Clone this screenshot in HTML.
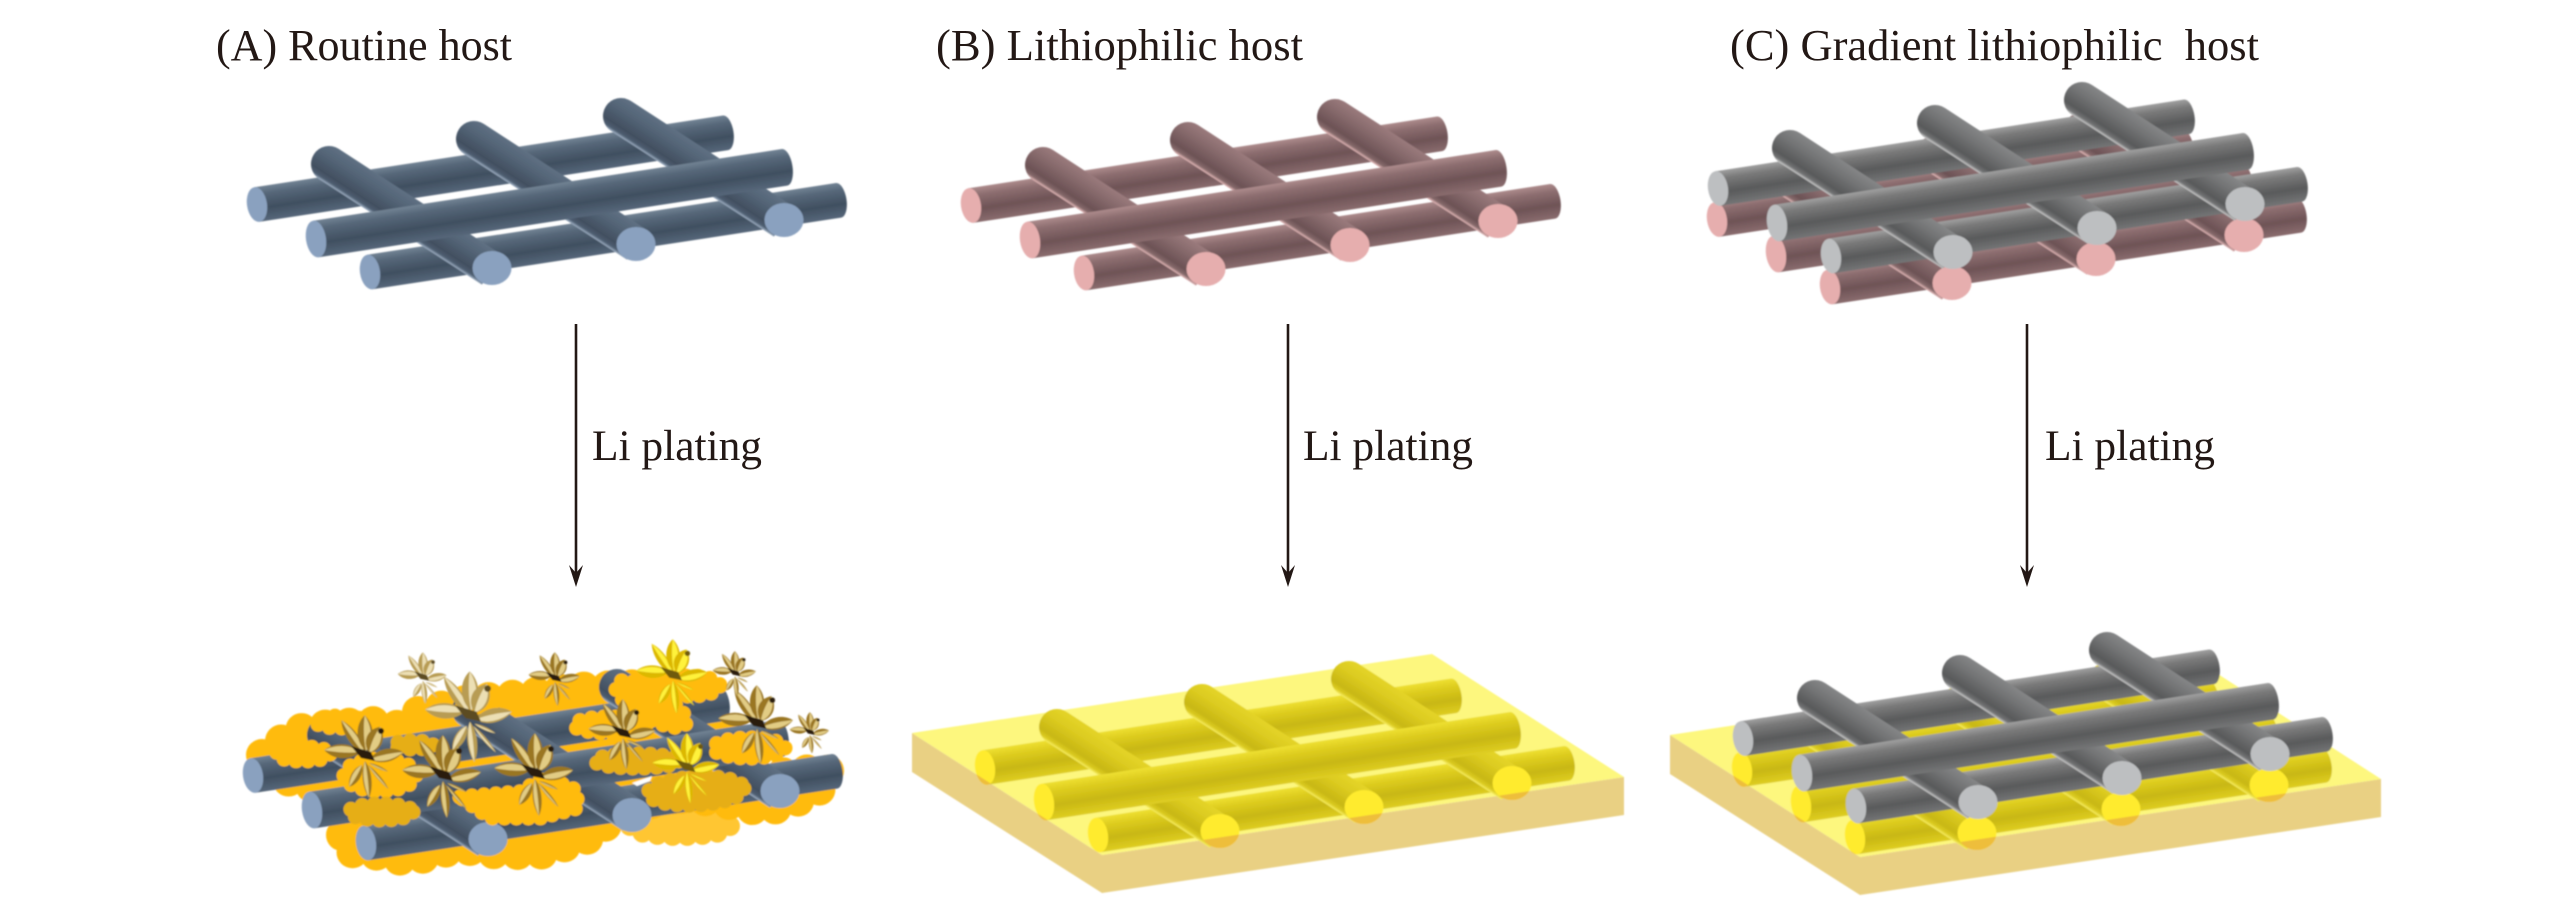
<!DOCTYPE html>
<html>
<head>
<meta charset="utf-8">
<style>
html,body{margin:0;padding:0;background:#fff;}
svg{display:block;}
.h{fill:var(--h);}
.d{fill:var(--d);}
.c{fill:var(--c);}
.la{fill:var(--a);}
.lb{fill:var(--b);}
.lk{fill:var(--k);}
text{font-family:"Liberation Serif",serif;fill:#231815;}
.t{font-size:44px;}
.p{font-size:43.5px;}
.s{stroke-dasharray:0 24;stroke-linecap:round;stroke-width:32;stroke-linejoin:round;}
.m{stroke-dasharray:0 12;stroke-linecap:round;stroke-width:15;stroke-linejoin:round;}
.n{stroke-dasharray:0 15;stroke-linecap:round;stroke-width:20;stroke-linejoin:round;}
</style>
</head>
<body>
<svg width="2567" height="903" viewBox="0 0 2567 903" xmlns="http://www.w3.org/2000/svg">
<defs>
  <filter id="soft" x="-2%" y="-2%" width="104%" height="104%"><feGaussianBlur stdDeviation="0.8"/></filter>
  <linearGradient id="hB" x1="0" y1="0" x2="0" y2="1"><stop offset="0" stop-color="#728394"/><stop offset=".22" stop-color="#566779"/><stop offset=".62" stop-color="#404f60"/><stop offset="1" stop-color="#56677a"/></linearGradient>
  <linearGradient id="dB" x1="0" y1="0" x2="0" y2="1"><stop offset="0" stop-color="#5f7083"/><stop offset=".35" stop-color="#536476"/><stop offset=".78" stop-color="#424f60"/><stop offset=".92" stop-color="#4f5f72"/><stop offset="1" stop-color="#a3b4c8"/></linearGradient>
  <linearGradient id="hP" x1="0" y1="0" x2="0" y2="1"><stop offset="0" stop-color="#ad8b8c"/><stop offset=".22" stop-color="#8d6e70"/><stop offset=".62" stop-color="#6e5356"/><stop offset="1" stop-color="#8a6c6e"/></linearGradient>
  <linearGradient id="dP" x1="0" y1="0" x2="0" y2="1"><stop offset="0" stop-color="#9a7a7c"/><stop offset=".35" stop-color="#876a6c"/><stop offset=".78" stop-color="#6c5255"/><stop offset=".92" stop-color="#866a6b"/><stop offset="1" stop-color="#e8bcbc"/></linearGradient>
  <linearGradient id="hG" x1="0" y1="0" x2="0" y2="1"><stop offset="0" stop-color="#a0a0a0"/><stop offset=".22" stop-color="#7a7a7a"/><stop offset=".62" stop-color="#595a5b"/><stop offset="1" stop-color="#747576"/></linearGradient>
  <linearGradient id="dG" x1="0" y1="0" x2="0" y2="1"><stop offset="0" stop-color="#858687"/><stop offset=".35" stop-color="#737475"/><stop offset=".78" stop-color="#58595a"/><stop offset=".92" stop-color="#737475"/><stop offset="1" stop-color="#cfcfcf"/></linearGradient>
  <linearGradient id="hY" x1="0" y1="0" x2="0" y2="1"><stop offset="0" stop-color="#eee032"/><stop offset=".22" stop-color="#dfce20"/><stop offset=".62" stop-color="#c8b712"/><stop offset="1" stop-color="#dfce22"/></linearGradient>
  <linearGradient id="dY" x1="0" y1="0" x2="0" y2="1"><stop offset="0" stop-color="#e4d428"/><stop offset=".35" stop-color="#dccb20"/><stop offset=".78" stop-color="#c8b714"/><stop offset=".92" stop-color="#dccc22"/><stop offset="1" stop-color="#f8ef63"/></linearGradient>

  <g id="caps">
    <ellipse transform="translate(257,204.5) rotate(-8.7)" rx="10" ry="17.5"/>
    <ellipse transform="translate(316,239) rotate(-8.7)" rx="10" ry="18.5"/>
    <ellipse transform="translate(370,272) rotate(-8.7)" rx="10" ry="17.5"/>
    <ellipse cx="492" cy="268" rx="19.5" ry="17"/>
    <ellipse cx="636" cy="244" rx="19.5" ry="17"/>
    <ellipse cx="784" cy="220" rx="19.5" ry="17"/>
  </g>

  <g id="mesh">
    <path class="h" transform="translate(257,204.5) rotate(-8.7)" d="M0,-17.5H474A8,17.5 0 0 1 474,17.5H0Z"/>
    <path class="h" transform="translate(370,272) rotate(-8.7)" d="M0,-17.5H474A8,17.5 0 0 1 474,17.5H0Z"/>
    <path class="d" transform="translate(329,164) rotate(33)" d="M0,-18H194V18H0A18,18 0 0 1 0,-18Z"/>
    <path class="d" transform="translate(474,139) rotate(33)" d="M0,-18H194V18H0A18,18 0 0 1 0,-18Z"/>
    <path class="d" transform="translate(621,116) rotate(33)" d="M0,-18H194V18H0A18,18 0 0 1 0,-18Z"/>
    <path class="h" transform="translate(316,239) rotate(-8.7)" d="M0,-18.5H474A8,18.5 0 0 1 474,18.5H0Z"/>
    <use href="#caps" class="c"/>
  </g>

  <g id="lf">
    <path class="la" d="M0,0C-9,-12 -8,-32 -1,-42C6,-32 8,-12 0,0Z"/>
    <path class="lb" d="M0,0C-2,-14 -2,-30 -1,-42C4,-30 6,-14 0,0Z"/>
  </g>
  <g id="tr">
    <use href="#lf" transform="translate(0,6) rotate(175) scale(.75,.88)"/>
    <use href="#lf" transform="translate(-3,10) rotate(212) scale(.8,.6)"/>
    <use href="#lf" transform="translate(3,10) rotate(140) scale(.3,.75)"/>
    <use href="#lf" transform="translate(4,8) rotate(115) scale(.25,.5)"/>
    <use href="#lf" transform="translate(-5,-3) rotate(-85) scale(1.2,.85)"/>
    <use href="#lf" transform="translate(5,4) rotate(80) scale(1.1,.8)"/>
    <use href="#lf" transform="rotate(-33) scale(.9,1)"/>
    <use href="#lf" transform="translate(1,-4) rotate(0) scale(1.3,.85)"/>
    <use href="#lf" transform="translate(4,-2) rotate(26) scale(1.4,.68)"/>
    <path class="lk" d="M-14,-9L6,-3L10,6L-4,3Z"/>
    <circle class="lk" cx="16" cy="-24" r="3"/>
  </g>

  <clipPath id="sideB"><polygon points="912,733 1102,855 1624,777 1624,815 1102,893 912,772"/></clipPath>
  <clipPath id="sideC"><polygon points="1670,735 1860,857 2381,779 2381,817 1860,895 1670,774"/></clipPath>
</defs>

<rect width="2567" height="903" fill="#fff"/>

<!-- Titles -->
<text class="t" x="216" y="60" textLength="296" lengthAdjust="spacingAndGlyphs">(A) Routine host</text>
<text class="t" x="936" y="60" textLength="367" lengthAdjust="spacingAndGlyphs">(B) Lithiophilic host</text>
<text class="t" x="1730" y="60" textLength="529" lengthAdjust="spacingAndGlyphs">(C) Gradient lithiophilic&#160; host</text>

<g filter="url(#soft)">
<!-- Top meshes -->
<g style="--h:url(#hB);--d:url(#dB);--c:#8aa1bf"><use href="#mesh"/></g>
<g style="--h:url(#hP);--d:url(#dP);--c:#e6aeae"><use href="#mesh" transform="translate(714,1)"/></g>
<g style="--h:url(#hP);--d:url(#dP);--c:#e6aeae"><use href="#mesh" transform="translate(1460,15)"/></g>
<g style="--h:url(#hG);--d:url(#dG);--c:#bdbfc1"><use href="#mesh" transform="translate(1461,-16)"/></g>

<!-- Bottom A: clouds behind mesh -->
<g fill="#ffc633" stroke="#ffc633" class="n"><ellipse cx="680" cy="826" rx="50" ry="10"/></g>
<g fill="#ffbb0b" stroke="#ffbb0b" class="s">
  <path d="M342,835 L362,825 L600,800 L606,828 L585,840 L540,854 L500,854 L470,850 L440,852 L410,862 L380,855 L350,852 Z"/>
  <path d="M640,790 L828,768 L828,785 L800,800 L765,812 L735,805 L690,798 L650,798 Z"/>
  <path d="M262,755 L295,730 L330,725 L375,722 L420,730 L420,790 L350,790 L305,786 L275,776 Z"/>
  <path d="M418,712 L470,700 L520,695 L575,688 L640,685 L705,690 L712,720 L600,740 L420,750 Z"/>
  <path d="M400,740 L720,720 L760,780 L620,810 L400,810 Z"/>
</g>
<g style="--h:url(#hB);--d:url(#dB);--c:#8aa1bf"><use href="#mesh" transform="translate(-4,571)"/></g>
<!-- clouds over mesh -->
<g fill="#ffbb0b" stroke="#ffbb0b" class="m">
  <path d="M460,797 L520,792 L545,777 L576,790 L578,808 L540,818 L490,818 Z"/>
  <ellipse cx="303" cy="754" rx="27" ry="7"/>
  <ellipse cx="380" cy="775" rx="36" ry="16"/>
  <ellipse cx="340" cy="722" rx="24" ry="6"/>
  <ellipse cx="478" cy="702" rx="16" ry="8"/>
  <ellipse cx="610" cy="725" rx="36" ry="8"/>
  <ellipse cx="651" cy="704" rx="40" ry="14" transform="rotate(30 651 704)"/>
  <ellipse cx="690" cy="686" rx="30" ry="10"/>
  <ellipse cx="749" cy="748" rx="36" ry="10"/>
</g>
<g fill="#e6ae16" stroke="#e6ae16" class="m">
  <ellipse cx="381" cy="812" rx="32" ry="8"/>
  <ellipse cx="413" cy="745" rx="20" ry="4"/>
  <ellipse cx="637" cy="761" rx="42" ry="7"/>
  <ellipse cx="696" cy="791" rx="48" ry="14" transform="rotate(-3 696 791)"/>
</g>
<polygon points="632,783 652,776 650,781 637,786" fill="#fff"/>
<!-- dendrites -->
<g style="--a:#9a7621;--b:#e2cc84;--k:#2b1f0a">
  <use href="#tr" transform="translate(365,755)"/>
  <use href="#tr" transform="translate(443,775)"/>
  <use href="#tr" transform="translate(535,773)"/>
  <use href="#tr" transform="translate(623,733) scale(.85)"/>
  <use href="#tr" transform="translate(757,723) scale(.95)"/>
  <use href="#tr" transform="translate(555,678) scale(.65)"/>
  <use href="#tr" transform="translate(735,673) scale(.55)"/>
  <use href="#tr" transform="translate(810,732) scale(.5)"/>
</g>
<g style="--a:#b89c52;--b:#ecdfb4;--k:#5c4b20">
  <use href="#tr" transform="translate(470,715) scale(1.1)"/>
  <use href="#tr" transform="translate(423,677) scale(.62)"/>
</g>
<g style="--a:#dcb800;--b:#fff23a;--k:#6e5a10">
  <use href="#tr" transform="translate(673,675) scale(.9)"/>
  <use href="#tr" transform="translate(687,767) scale(.85)"/>
</g>

<!-- Bottom B -->
<polygon points="912,733 1102,855 1624,777 1624,815 1102,893 912,772" fill="#e9d083"/>
<polygon points="912,733 1432,654 1624,777 1102,855" fill="#fdf77e"/>
<g style="--h:url(#hY);--d:url(#dY);--c:#ffeb2d"><use href="#mesh" transform="translate(728,563)"/></g>
<g clip-path="url(#sideB)" fill="#eebe3a"><use href="#caps" transform="translate(728,563)"/></g>

<!-- Bottom C -->
<polygon points="1670,735 1860,857 2381,779 2381,817 1860,895 1670,774" fill="#e9d083"/>
<polygon points="1670,735 2190,656 2381,779 1860,857" fill="#fdf77e"/>
<g style="--h:url(#hY);--d:url(#dY);--c:#ffeb2d"><use href="#mesh" transform="translate(1485,565)"/></g>
<g clip-path="url(#sideC)" fill="#eebe3a"><use href="#caps" transform="translate(1485,565)"/></g>
<g style="--h:url(#hG);--d:url(#dG);--c:#bdbfc1"><use href="#mesh" transform="translate(1486,534)"/></g>
</g>

<!-- Arrows -->
<g stroke="#231815" stroke-width="2.6" fill="none">
  <line x1="576" y1="324" x2="576" y2="574"/>
  <line x1="1288" y1="324" x2="1288" y2="574"/>
  <line x1="2027" y1="324" x2="2027" y2="574"/>
</g>
<g fill="#231815">
  <polygon points="569,565 576,587 583,565 576,573"/>
  <polygon points="1281,565 1288,587 1295,565 1288,573"/>
  <polygon points="2020,565 2027,587 2034,565 2027,573"/>
</g>
<text class="p" x="592" y="460" textLength="170" lengthAdjust="spacingAndGlyphs">Li plating</text>
<text class="p" x="1303" y="460" textLength="170" lengthAdjust="spacingAndGlyphs">Li plating</text>
<text class="p" x="2045" y="460" textLength="170" lengthAdjust="spacingAndGlyphs">Li plating</text>
</svg>
</body>
</html>
